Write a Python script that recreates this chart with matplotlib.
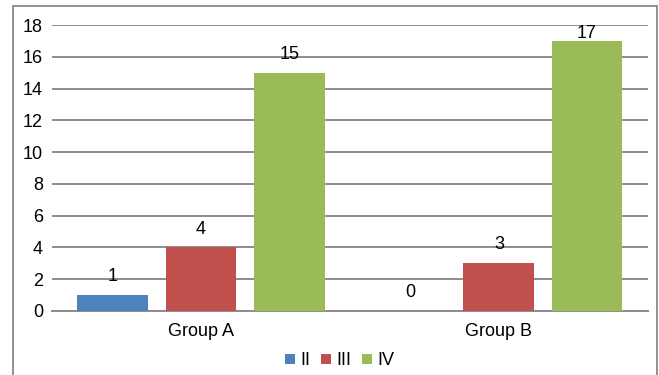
import numpy as np
import matplotlib.pyplot as plt
from matplotlib.patches import Rectangle

plt.rcParams['font.family'] = ['Liberation Sans', 'DejaVu Sans']

groups = ["Group A", "Group B"]
series = ["II", "III", "IV"]
values_ii = [1, 0]
values_iii = [4, 3]
values_iv = [15, 17]
colors = ["#4F81BD", "#C0504D", "#9BBB59"]

fig = plt.figure(figsize=(6.59, 3.75), dpi=100)
ax = fig.add_axes([0.079, 0.171, 0.904, 0.762])

x = np.arange(len(groups))
width = 0.238
step = 0.296
all_vals = [values_ii, values_iii, values_iv]
for i, (name, vals, c) in enumerate(zip(series, all_vals, colors)):
    pos = x + (i - 1) * step
    ax.bar(pos, vals, width, color=c, label=name, zorder=3)
    for p, v in zip(pos, vals):
        # labels sit above the bar, but stay inside the plot at the top
        ax.text(p, min(v + 1.15, 17.5), str(v), ha='center', va='center',
                fontsize=13, zorder=4)

ax.set_xlim(-0.5, 1.5)
ax.set_ylim(0, 18)
ax.set_yticks(range(0, 19, 2))
ax.set_xticks(x)
ax.set_xticklabels(groups)
ax.yaxis.grid(True, color='#8c8c8c', linewidth=1.4, zorder=0)
ax.tick_params(axis='both', length=0, labelsize=13)
ax.tick_params(axis='y', pad=6.5)
ax.tick_params(axis='x', pad=9)
for s in ['top', 'right', 'left']:
    ax.spines[s].set_visible(False)
ax.spines['bottom'].set_color('#8c8c8c')
ax.spines['bottom'].set_linewidth(1.4)

ax.legend(loc='center', bbox_to_anchor=(0.483, -0.175), ncol=3, frameon=False,
          fontsize=13, handlelength=0.55, handleheight=0.55, handletextpad=0.3,
          columnspacing=0.6, borderpad=0)

# chart border like the spreadsheet frame
fig.patches.append(Rectangle((13 / 659, -0.1), 644 / 659, 1.1 - 6 / 375,
                             transform=fig.transFigure, fill=False,
                             edgecolor='#7f7f7f', linewidth=1.2))

fig.savefig("out.png", dpi=100)
